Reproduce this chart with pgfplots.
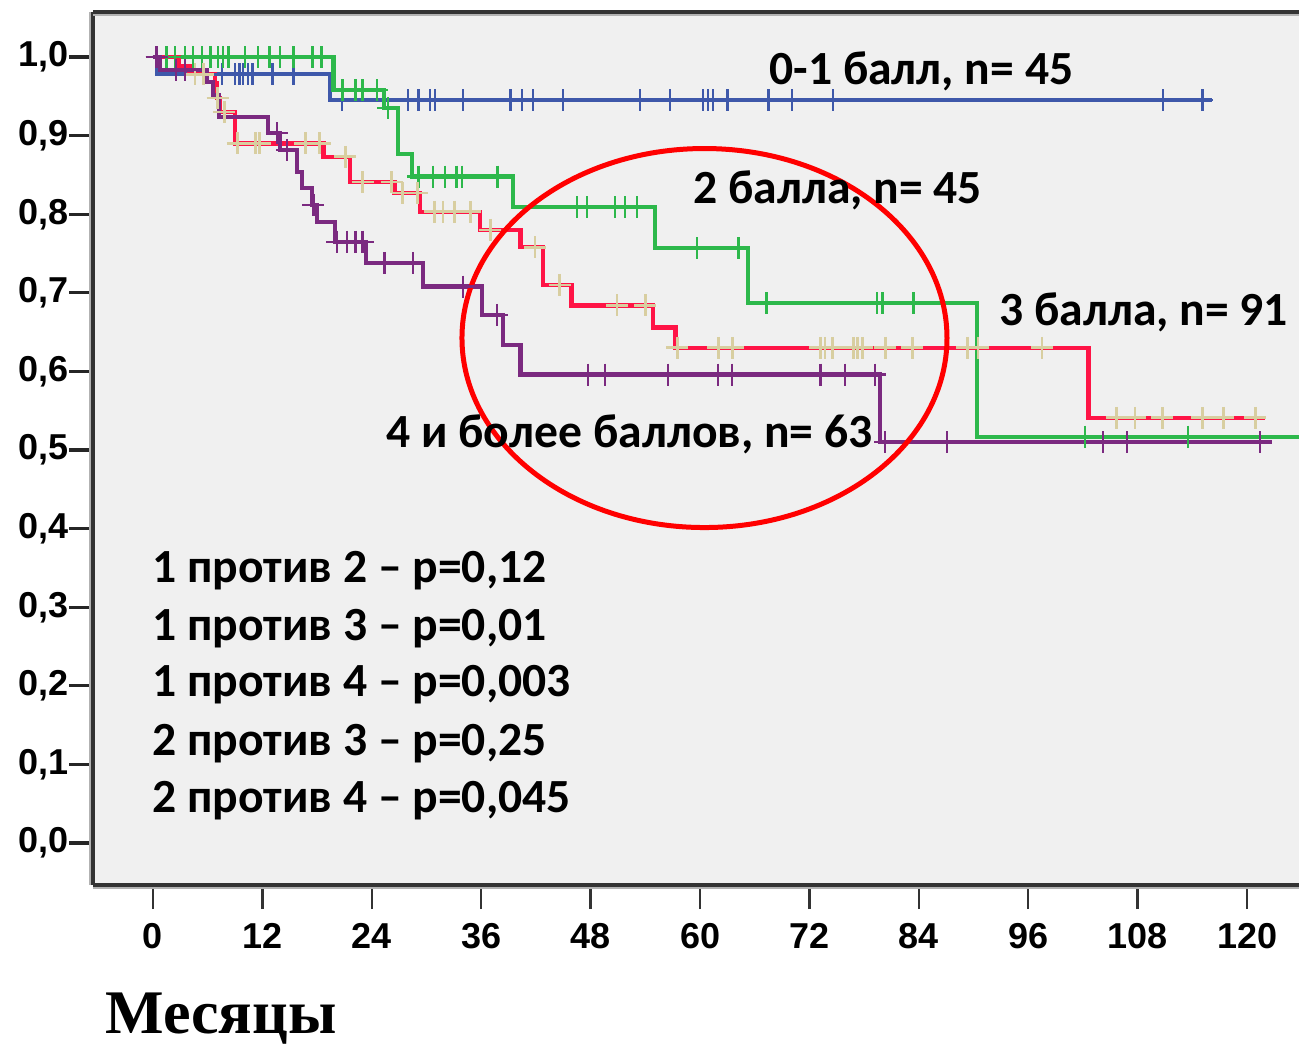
\documentclass[border=0pt]{standalone}
\usepackage{fontspec}
\setmainfont{Carlito}
\newfontfamily\tickfont{Liberation Sans}
\newfontfamily\serifb{Liberation Serif}
\usepackage{pgfplots}
\pgfplotsset{compat=1.18}
\definecolor{bgc}{RGB}{240,240,240}
\definecolor{cblue}{RGB}{62,88,170}
\definecolor{cgreen}{RGB}{45,184,75}
\definecolor{cred}{RGB}{255,20,70}
\definecolor{cbeige}{RGB}{216,206,160}
\definecolor{cpurple}{RGB}{123,42,128}
\newcommand{\annfont}{\fontsize{23.8}{28}\selectfont\bfseries}
\begin{document}
\begin{tikzpicture}
\useasboundingbox (0,0) rectangle (649.5pt,523pt);
\begin{axis}[
  name=ax,
  at={(46.5pt,80.5pt)}, anchor=south west,
  scale only axis, width=603pt, height=436.5pt,
  xmin=-6.58, xmax=125.7, ymin=-0.0534, ymax=1.0573,
  axis lines=left,
  axis line style={-, line width=1.6pt, black!80},
  axis background/.style={fill=bgc},
  xtick={0,12,24,36,48,60,72,84,96,108,120},
  xticklabels={0,12,24,36,48,60,72,84,96,108,120},
  ytick={0,0.1,0.2,0.3,0.4,0.5,0.6,0.7,0.8,0.9,1.0},
  tick align=outside,
  major tick length=12pt,
  xtick style={line width=1.2pt, black!80},
  ytick style={line width=1.6pt, black!85},
  ticklabel style={font=\fontsize{18}{20}\selectfont\tickfont\bfseries},
  xticklabel style={anchor=north, inner sep=0pt, yshift=-7pt},
  yticklabel style={anchor=east, inner sep=0pt},
  /pgf/number format/.cd, fixed, fixed zerofill, precision=1, use comma, assume math mode=true,
]
% 0-1 балл (blue)
\addplot[cblue, line width=2.1pt, const plot] coordinates {
 (0,1) (0.4,0.978) (19.4,0.945) (116.2,0.945)};
\addplot[cblue, only marks, mark=+, mark size=5.5pt, mark options={line width=1.2pt}] coordinates {
 (7.6,0.978) (9.0,0.978) (9.5,0.978) (9.9,0.978) (10.4,0.978) (10.9,0.978) (13.1,0.978) (15.4,0.978)
 (20.7,0.945) (28.0,0.945) (29.1,0.945) (30.4,0.945) (30.9,0.945) (34.0,0.945) (39.2,0.945)
 (40.5,0.945) (41.7,0.945) (45.0,0.945) (53.4,0.945) (56.7,0.945) (60.3,0.945) (60.9,0.945)
 (61.4,0.945) (63.0,0.945) (67.5,0.945) (70.1,0.945) (74.6,0.945) (110.8,0.945) (115.1,0.945)};
% 2 балла (green)
\addplot[cgreen, line width=2.1pt, const plot] coordinates {
 (0,1) (19.8,0.958) (25.3,0.935) (26.9,0.877) (28.4,0.848) (39.5,0.809) (55.1,0.757)
 (65.3,0.687) (90.4,0.517) (126,0.517)};
\addplot[cgreen, only marks, mark=+, mark size=5.5pt, mark options={line width=1.2pt}] coordinates {
 (0.4,1) (1.5,1) (2.4,1) (3.5,1) (4.4,1) (5.4,1) (6.3,1) (7.1,1) (7.7,1) (8.3,1) (10.1,1)
 (11.5,1) (12.8,1) (13.9,1) (15.4,1) (17.5,1) (18.5,1)
 (20.8,0.958) (22.2,0.958) (23.0,0.958) (24.6,0.958) (25.8,0.935)
 (29.1,0.848) (30.7,0.848) (32.0,0.848) (33.3,0.848) (33.9,0.848) (37.8,0.848)
 (46.5,0.809) (47.6,0.809) (50.7,0.809) (51.8,0.809) (53.1,0.809)
 (59.7,0.757) (64.2,0.757)
 (67.3,0.687) (79.4,0.687) (80.0,0.687) (83.4,0.687)
 (102.2,0.517) (113.5,0.517)};
% 3 балла (red, beige marks)
\addplot[cred, line width=2.1pt, const plot] coordinates {
 (0,1) (2.8,0.989) (4.0,0.978) (6.8,0.967) (7.0,0.948) (7.3,0.930) (9.0,0.890) (18.7,0.873)
 (21.6,0.841) (26.5,0.827) (29.3,0.803) (35.9,0.780) (40.3,0.758) (42.8,0.710) (45.9,0.684)
 (54.8,0.656) (57.3,0.630) (102.6,0.541) (122.0,0.541)};
\addplot[cbeige, only marks, mark=+, mark size=5.5pt, mark options={line width=1.4pt}] coordinates {
 (4.6,0.978) (5.5,0.978) (7.1,0.948) (7.8,0.930)
 (9.3,0.890) (11.2,0.890) (11.7,0.890) (16.7,0.890) (18.3,0.890)
 (21.1,0.873) (23.0,0.841) (26.2,0.841) (27.4,0.827) (29.0,0.827)
 (30.9,0.803) (31.8,0.803) (33.1,0.803) (34.8,0.803) (37.0,0.780) (41.9,0.758) (44.6,0.710)
 (50.9,0.684) (54.0,0.684)
 (57.5,0.630) (62.0,0.630) (63.6,0.630) (73.2,0.630) (73.7,0.630) (74.5,0.630) (76.8,0.630)
 (77.3,0.630) (77.8,0.630) (80.3,0.630) (83.3,0.630) (89.3,0.630) (90.5,0.630) (97.5,0.630)
 (105.7,0.541) (107.7,0.541) (110.7,0.541) (115.1,0.541) (117.4,0.541) (120.9,0.541)};
% 4 и более (purple)
\addplot[cpurple, line width=2.1pt, const plot] coordinates {
 (0,1) (0.8,0.984) (5.9,0.968) (6.6,0.952) (7.2,0.924) (12.6,0.903) (13.9,0.882) (15.8,0.854)
 (16.3,0.833) (17.4,0.812) (18.0,0.790) (20.0,0.765) (23.4,0.738) (29.6,0.708) (36.1,0.672)
 (38.4,0.634) (40.3,0.596) (79.7,0.510) (122.7,0.510)};
\addplot[cpurple, only marks, mark=+, mark size=5.5pt, mark options={line width=1.2pt}] coordinates {
 (0.4,1) (2.5,0.984) (3.5,0.984) (13.6,0.903) (14.7,0.882) (17.6,0.812)
 (20.2,0.765) (21.3,0.765) (22.2,0.765) (23.0,0.765) (25.4,0.738) (28.5,0.738)
 (34.0,0.708) (37.7,0.672)
 (47.7,0.596) (49.6,0.596) (56.5,0.596) (62.0,0.596) (63.5,0.596) (73.2,0.596) (75.9,0.596) (79.2,0.596)
 (80.3,0.510) (87.1,0.510) (104.2,0.510) (106.8,0.510) (121.4,0.510)};
% ellipse
\draw[red, line width=2.5pt] (axis cs:60.49,0.6425) ellipse [x radius=26.6, y radius=0.2411];
% labels
\node[anchor=base west, inner sep=0pt, font=\annfont] at (axis cs:67.57,0.9656) {0-1 балл, n= 45};
\node[anchor=base west, inner sep=0pt, font=\annfont] at (axis cs:59.23,0.8142) {2 балла, n= 45};
\node[anchor=base west, inner sep=0pt, font=\annfont] at (axis cs:92.79,0.659) {3 балла, n= 91};
\node[anchor=base west, inner sep=0pt, font=\annfont] at (axis cs:25.56,0.5038) {4 и более баллов, n= 63};
\node[anchor=base west, inner sep=0pt, font=\annfont] at (axis cs:-0.11,0.332) {1 против 2 – p=0,12};
\node[anchor=base west, inner sep=0pt, font=\annfont] at (axis cs:-0.11,0.2583) {1 против 3 – p=0,01};
\node[anchor=base west, inner sep=0pt, font=\annfont] at (axis cs:-0.11,0.1858) {1 против 4 – p=0,003};
\node[anchor=base west, inner sep=0pt, font=\annfont] at (axis cs:-0.11,0.1120) {2 против 3 – p=0,25};
\node[anchor=base west, inner sep=0pt, font=\annfont] at (axis cs:-0.11,0.0394) {2 против 4 – p=0,045};
\end{axis}
% frame top and shadows
\draw[black!80, line width=1.6pt] (ax.north west) -- (ax.north east);
\draw[black!30, line width=1.2pt] ([yshift=-1.4pt]ax.north west) -- ([yshift=-1.4pt]ax.north east);
\draw[black!30, line width=1.2pt] ([yshift=-1.4pt]ax.south west) -- ([yshift=-1.4pt]ax.south east);
\draw[black!30, line width=1.2pt] ([xshift=-1.4pt]ax.south west) -- ([xshift=-1.4pt]ax.north west);
\node[anchor=base west, inner sep=0pt, font=\serifb\bfseries\fontsize{31}{34}\selectfont] at (52.5pt,6.5pt) {Месяцы};
\end{tikzpicture}
\end{document}
